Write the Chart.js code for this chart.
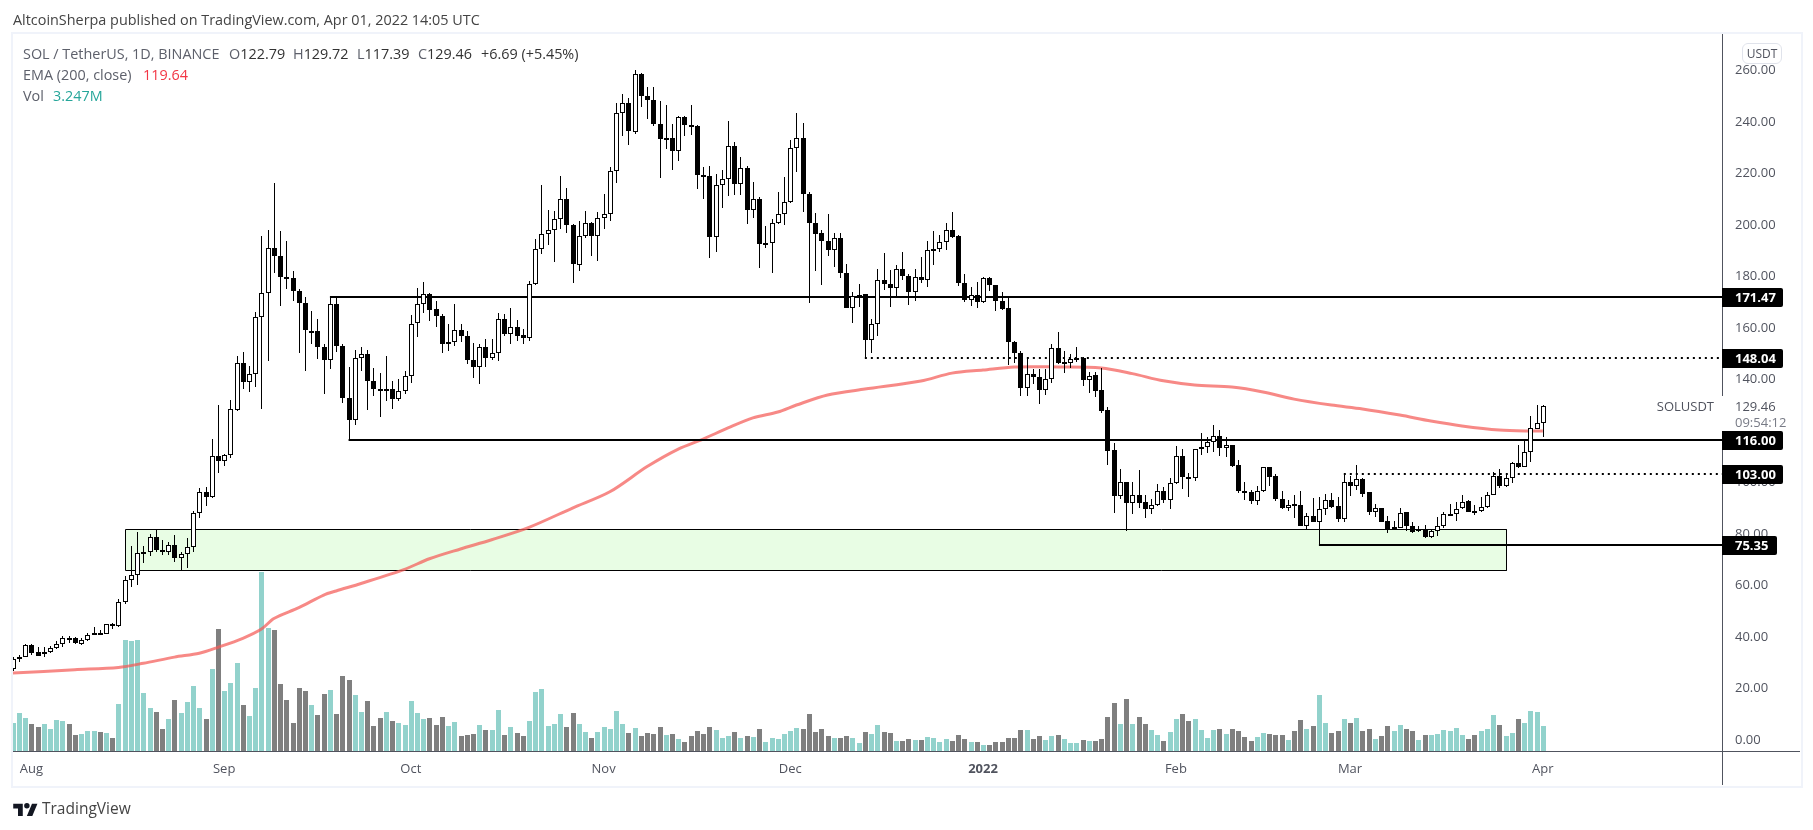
<!DOCTYPE html>
<html>
<head>
<meta charset="utf-8">
<title>SOL / TetherUS</title>
<script src="https://cdn.jsdelivr.net/npm/chart.js@4/dist/chart.umd.min.js"></script>
<style>
  html, body { margin: 0; padding: 0; background: #fff; }
  body { width: 1813px; height: 830px; position: relative; overflow: hidden; font-family: "Open Sans", sans-serif; }
  canvas { position: absolute; left: 0; top: 0; }
  #frame { position: absolute; left: 11px; top: 32px; width: 1788px; height: 752px; border: 2px solid #f0f3fa; }
  .txt { position: absolute; white-space: pre; font-size: 14.4px; line-height: 18px; color: #5d606b; }
  .txt b { font-weight: normal; color: #333; }
  #usdt { position: absolute; left: 1742px; top: 43px; width: 38px; height: 19px; border: 1px solid #e0e3eb; border-radius: 6px; background: #fff;
          font-size: 12px; line-height: 19px; text-align: center; color: #50535e; }
  #logo { position: absolute; left: 13px; top: 801px; }
</style>
</head>
<body>
<div id="frame"></div>
<canvas id="chart" width="1813" height="830"></canvas>
<div class="txt" style="left:13px;top:11px;color:#444">AltcoinSherpa published on TradingView.com, Apr 01, 2022 14:05 UTC</div>
<div class="txt" style="left:23px;top:45px">SOL / TetherUS, 1D, BINANCE</div>
<div class="txt" style="left:229px;top:45px">O<b>122.79</b></div>
<div class="txt" style="left:293px;top:45px">H<b>129.72</b></div>
<div class="txt" style="left:357px;top:45px">L<b>117.39</b></div>
<div class="txt" style="left:418px;top:45px">C<b>129.46</b></div>
<div class="txt" style="left:481px;top:45px"><b>+6.69 (+5.45%)</b></div>
<div class="txt" style="left:23px;top:66px">EMA (200, close)</div>
<div class="txt" style="left:143px;top:66px;color:#f23645">119.64</div>
<div class="txt" style="left:23px;top:87px">Vol</div>
<div class="txt" style="left:53px;top:87px;color:#26a69a">3.247M</div>
<div id="usdt">USDT</div>
<svg id="logo" width="25" height="15" viewBox="0 0 36 22"><path d="M14 22H7V11H0V4h14v18zM28 22h-8l7.5-18h8L28 22z" fill="#131722"/><circle cx="20" cy="7" r="4" fill="#131722"/></svg>
<div class="txt" style="left:42px;top:798px;font-size:15.5px;line-height:20px;color:#444">TradingView</div>

<script>
// daily candles, day 0 = Jul 29 2021, day 246 = Apr 1 2022
const opens = [
  27.2,31.1,31.7,36.5,33.8,32.9,33.6,35.3,36.9,39.2,
  39.2,37.0,38.4,40.4,41.1,40.8,44.6,43.9,53.1,61.7,
  63.7,72.1,72.6,78.4,73.4,72.6,75.3,70.3,71.8,74.6,
  87.8,95.9,94.0,109.9,107.8,110.3,127.7,146.0,138.5,141.7,
  163.7,173.2,190.7,187.6,179.4,179.0,174.0,169.3,158.3,158.4,
  152.1,147.2,168.9,152.6,132.4,123.7,148.0,149.5,139.0,135.9,
  135.4,135.9,131.9,135.1,140.8,161.4,168.9,172.8,167.1,164.3,
  153.6,154.2,158.8,156.5,147.2,144.3,152.2,148.0,149.9,163.1,
  157.1,160.0,157.0,155.6,176.7,190.3,196.1,197.7,202.0,209.8,
  199.8,184.1,195.4,200.4,195.4,202.3,203.9,220.6,243.1,247.0,
  235.7,258.3,249.9,248.2,239.0,233.0,233.4,228.4,241.7,238.5,
  238.1,219.1,218.7,195.0,215.2,217.5,230.3,215.6,221.8,205.3,
  209.7,192.3,192.6,200.4,203.9,208.4,229.5,233.4,211.7,200.4,
  196.5,193.4,189.8,194.6,181.0,167.3,171.7,172.8,155.0,161.2,
  178.3,176.7,175.0,182.6,179.8,173.5,179.4,178.1,189.9,190.3,
  193.0,197.7,195.4,177.1,170.4,172.5,169.6,179.0,176.3,170.2,
  167.4,154.2,149.9,136.2,141.9,140.6,135.4,140.0,151.7,146.1,
  146.1,147.6,147.8,139.5,141.2,135.4,127.6,112.1,94.5,99.7,
  91.8,94.6,91.9,89.4,91.0,96.2,92.9,99.3,110.1,101.9,
  101.5,112.5,113.5,115.2,117.5,113.1,114.0,106.3,96.5,95.8,
  92.5,96.2,105.5,102.0,93.4,89.8,91.1,90.7,82.8,86.5,
  84.4,89.2,92.7,90.3,85.5,99.7,98.4,101.0,95.8,88.3,
  89.7,84.5,81.4,82.0,88.0,82.8,80.6,81.7,78.6,80.9,
  82.8,87.1,87.5,89.8,92.3,88.5,88.4,90.2,94.9,102.2,
  98.4,101.5,107.0,105.7,111.6,120.4,122.79
];
const highs = [
  31.7,32.7,36.9,36.9,35.8,35.8,36.2,37.9,40.1,40.1,
  39.5,39.2,41.1,43.6,42.4,44.8,44.9,54.3,63.3,75.1,
  80.4,75.1,79.6,81.4,77.4,76.6,79.3,72.6,78.0,88.7,
  97.6,97.7,116.6,129.8,110.7,131.8,148.7,150.4,145.0,165.9,
  195.5,197.7,216.0,197.4,193.5,181.9,174.9,171.8,166.3,163.1,
  153.4,171.5,171.5,153.4,144.6,151.2,152.3,151.2,144.2,142.0,
  148.9,139.1,139.9,143.0,164.8,175.0,177.6,173.4,170.2,165.0,
  161.2,168.9,161.2,158.6,153.9,153.4,155.5,155.3,165.4,165.0,
  167.5,162.8,159.2,178.0,194.3,215.3,205.6,204.9,218.7,214.1,
  200.0,201.3,205.2,200.6,204.5,211.7,222.3,247.1,250.5,248.8,
  260.0,258.6,253.4,253.4,247.9,246.4,238.8,242.1,242.1,246.4,
  238.3,222.3,222.5,219.4,221.0,240.0,232.0,226.2,222.5,216.5,
  210.6,199.4,202.0,212.6,218.4,232.6,243.3,239.4,212.6,204.4,
  197.8,203.9,196.4,196.7,184.5,173.7,176.7,173.0,163.2,182.6,
  188.9,182.2,184.1,189.3,180.6,182.6,187.3,193.5,197.3,195.6,
  200.4,204.8,195.6,180.6,175.7,177.6,179.3,179.6,176.5,173.7,
  171.5,154.7,150.8,148.2,143.7,143.7,143.7,153.4,158.0,150.7,
  149.5,152.1,148.5,142.6,142.6,143.9,128.8,114.9,104.7,99.9,
  100.0,104.3,94.6,93.4,99.0,97.7,101.2,113.8,112.5,103.2,
  112.7,118.8,117.4,121.9,120.2,117.1,114.2,108.2,99.8,96.7,
  98.2,105.7,105.7,102.9,96.3,92.8,94.7,96.3,87.6,93.6,
  94.0,95.1,95.5,93.8,103.4,102.0,106.4,101.2,96.0,91.1,
  89.8,86.7,84.8,89.9,88.3,84.1,82.8,83.3,81.4,86.1,
  88.0,91.1,92.1,94.7,92.8,90.9,93.8,96.0,103.8,104.7,
  103.2,107.7,114.2,115.8,125.4,129.7,129.72
];
const lows = [
  26.5,29.8,31.7,32.7,32.3,32.0,33.3,34.8,35.6,37.1,
  36.9,36.4,37.9,40.2,40.4,40.6,42.6,43.4,52.4,58.9,
  59.7,68.2,70.9,72.5,71.3,71.3,68.7,65.7,66.3,72.5,
  85.7,90.3,93.6,103.2,105.9,109.0,127.5,135.8,134.6,136.9,
  128.0,146.7,180.8,168.0,174.9,170.2,150.1,142.8,153.6,147.4,
  133.8,143.8,150.4,130.3,116.0,122.1,142.8,127.9,133.4,124.9,
  131.4,128.0,131.1,134.0,138.1,156.0,165.6,162.2,159.9,150.1,
  150.5,152.5,154.0,145.5,140.3,137.7,144.3,147.3,146.7,156.6,
  153.3,154.7,153.4,154.7,176.5,188.2,192.0,185.1,197.9,196.4,
  177.0,181.6,194.6,187.5,185.5,197.9,201.1,215.8,234.1,230.6,
  235.0,245.6,240.7,237.9,217.8,229.3,220.9,224.6,234.3,234.5,
  213.7,209.6,186.7,189.0,206.1,210.8,211.1,211.1,200.1,202.3,
  182.8,190.6,180.9,199.9,199.5,208.0,220.1,204.8,169.2,181.6,
  176.2,187.5,183.5,178.9,167.2,161.4,167.7,148.04,149.9,156.6,
  174.4,167.9,171.8,178.3,168.4,170.2,177.0,175.7,184.2,189.0,
  190.0,194.7,176.1,169.9,168.3,167.5,169.5,174.1,166.4,166.5,
  145.1,145.9,133.2,133.1,137.9,130.1,133.6,138.4,145.6,142.2,
  143.9,146.5,137.2,134.5,132.9,126.5,106.4,87.9,93.3,80.9,
  87.4,89.6,85.9,87.4,90.6,91.8,89.4,99.0,97.2,94.0,
  100.3,110.3,111.2,111.6,109.9,109.6,105.7,95.4,92.8,91.4,
  90.9,96.0,98.4,92.5,89.2,88.7,85.9,82.7,81.4,84.3,
  75.35,87.0,89.6,84.4,84.4,94.3,96.7,94.1,87.0,86.3,
  84.3,80.1,81.2,81.8,80.9,80.1,80.2,77.9,78.2,78.9,
  82.0,86.7,84.8,89.3,88.0,87.0,88.2,89.9,94.6,97.5,
  98.0,99.3,105.4,105.6,107.4,120.3,117.39
];
const closes = [
  31.1,32.0,36.5,33.4,32.4,33.8,35.3,36.9,39.2,39.0,
  37.1,38.4,40.4,41.1,40.6,44.6,43.7,53.1,61.7,63.7,
  72.2,72.6,78.4,73.4,72.6,75.3,70.2,71.8,74.6,87.8,
  95.9,94.0,109.9,107.8,110.3,128.1,146.0,138.5,141.7,163.7,
  173.2,190.7,187.4,179.3,178.9,173.8,169.2,158.7,158.6,152.1,
  147.0,168.9,152.5,132.3,123.7,148.0,149.4,138.9,135.8,135.4,
  135.9,131.9,135.1,140.8,161.2,168.9,172.8,166.8,164.1,153.6,
  154.2,158.8,156.4,147.0,144.3,152.2,148.0,149.8,163.1,157.1,
  160.0,156.7,155.6,176.7,190.3,196.1,197.7,202.0,209.7,199.5,
  184.4,195.4,200.4,195.2,202.3,203.9,220.6,243.1,247.0,236.0,
  258.3,249.6,248.0,238.7,232.9,233.3,228.2,241.6,238.3,237.9,
  218.9,218.5,194.8,215.2,217.5,230.3,215.4,221.8,205.3,209.7,
  192.1,192.6,200.4,203.9,208.4,229.5,233.4,211.5,200.3,196.0,
  193.3,189.8,194.6,180.9,167.3,171.9,172.5,154.8,161.2,178.3,
  176.6,175.0,182.6,179.7,173.5,179.4,178.1,189.9,190.3,193.0,
  197.7,195.1,177.0,170.4,172.3,169.6,179.0,176.2,170.0,167.1,
  154.1,149.8,136.2,141.8,140.5,135.4,139.8,151.7,146.1,146.5,
  147.7,147.9,139.5,141.0,135.3,127.5,112.0,94.5,99.7,91.8,
  94.6,91.8,89.4,91.0,96.2,92.9,99.3,110.1,101.9,101.5,
  112.5,113.5,115.2,117.5,113.1,114.0,106.0,96.4,95.6,92.5,
  96.2,105.5,101.9,93.3,89.7,91.0,90.6,82.8,86.5,84.4,
  89.2,92.7,90.2,85.5,99.7,98.4,100.8,95.3,88.3,89.6,
  84.4,81.4,82.2,87.9,82.8,80.5,81.5,78.6,80.9,82.8,
  87.5,87.4,89.4,92.1,88.3,88.3,90.2,94.9,102.2,98.4,
  101.5,107.0,105.7,111.6,120.6,122.8,129.46
];
// volume in millions
const volumes = [
  3.64,4.94,4.29,3.51,3.12,3.51,2.86,4.03,3.90,3.51,
  2.08,2.21,2.60,2.60,2.47,2.34,1.69,6.10,14.42,14.29,
  14.42,7.53,5.58,5.06,2.86,4.16,6.62,4.94,6.36,8.44,
  5.58,4.16,10.65,15.84,7.79,8.83,11.43,5.97,4.55,8.18,
  23.25,15.97,15.71,8.70,6.62,3.64,8.18,7.79,5.97,4.68,
  7.40,7.92,4.81,9.74,9.22,7.27,5.06,6.49,3.25,4.29,
  5.06,3.90,3.64,3.38,6.49,4.94,4.16,4.29,3.38,4.42,
  3.25,3.77,1.95,2.08,2.21,3.38,2.73,2.73,5.32,2.08,
  3.12,2.34,1.95,3.90,7.66,8.05,3.25,3.51,4.81,3.12,
  4.94,3.51,2.47,1.69,2.47,3.12,2.86,5.19,3.51,2.34,
  2.99,1.95,2.34,2.21,3.12,2.08,2.21,1.56,1.17,1.95,
  2.60,2.21,3.12,2.73,1.69,1.95,2.47,1.69,1.95,1.82,
  2.86,1.17,1.69,1.56,2.21,2.60,2.99,2.86,4.81,2.47,
  2.86,1.95,1.69,1.69,1.95,1.69,1.04,2.47,2.21,3.38,
  2.47,2.34,1.30,1.30,1.56,1.43,1.43,1.82,1.69,1.17,
  1.56,1.30,2.08,1.56,1.17,1.17,0.78,0.78,1.17,1.17,
  1.69,1.69,2.73,2.73,1.56,1.95,1.43,1.95,2.08,1.56,
  1.04,1.04,1.43,1.30,1.30,1.56,4.42,6.23,3.51,6.75,
  3.51,4.42,3.51,2.73,2.08,1.30,2.47,4.16,4.81,3.90,
  4.16,2.73,1.69,2.73,2.86,2.21,2.86,2.60,1.82,1.30,
  1.82,2.34,2.21,2.08,2.08,1.43,2.60,4.03,2.86,3.25,
  7.27,3.64,2.34,2.60,4.16,3.64,4.29,2.60,2.86,1.56,
  1.95,3.25,2.60,3.38,2.86,2.60,1.43,2.08,2.08,2.21,
  2.73,2.60,2.99,2.08,1.56,2.08,2.60,2.86,4.68,3.38,
  1.95,2.34,4.16,3.64,5.19,5.06,3.247
];
// EMA 200 at these days
const emaDays = [0,10,17,21,26,30,33,37,40,42,46,50,52,56,63,67,72,77,83,90,96,102,107,111,115,119,123,126,131,137,146,151,156,161,168,175,180,185,190,196,201,206,212,217,223,228,233,239,244,246];
const emaValues = [25.6,26.9,27.8,29.4,31.8,33.3,35.6,39.1,42.7,46.8,51.0,55.9,57.5,60.4,65.9,70.0,73.8,77.4,82.2,89.7,96.0,105.8,112.6,116.5,120.8,124.7,127.0,129.7,133.6,135.9,139.0,142.1,143.3,144.5,144.5,144.1,141.9,139.1,137.5,136.7,134.8,132.0,129.7,128.2,125.8,123.5,121.6,120.0,119.6,119.64];

const priceTicks = [0,20,40,60,80,100,120,140,160,180,200,220,240,260];
const monthDays = [3,34,64,95,125,156,187,215,246];
const monthLabels = ["Aug","Sep","Oct","Nov","Dec","2022","Feb","Mar","Apr"];

// horizontal levels: price, first day
const levelPrices = [171.47,148.04,116.00,103.00,75.35];
const levelStarts = [51,137,54,214,210];
const levelDotted = [false,true,false,true,false];
const lastDay = 275;

const zoneDays = [18,240];
const zonePrices = [81.7,65.8];

const FONT = "'Open Sans', sans-serif";
const days = opens.map((_, i) => i);

function floatingBars(lo, hi) {
  return days.map(i => ({ x: i, y: [lo[i], hi[i]] }));
}

const levelSets = levelPrices.map((p, i) => ({
  type: "line", order: 3, snap: "level",
  data: [{ x: levelStarts[i], y: p }, { x: lastDay, y: p }],
  borderColor: "#000", borderWidth: 2, borderDash: levelDotted[i] ? [2, 4] : [], pointRadius: 0
}));

// snaps the library's computed pixels so candles come out crisp like the original
const snapPlugin = {
  id: "snap",
  afterDatasetsUpdate(chart) {
    chart.data.datasets.forEach((ds, n) => {
      const els = chart.getDatasetMeta(n).data;
      if (ds.snap === "bar") {
        els.forEach(el => {
          const top = Math.round(Math.min(el.y, el.base));
          let bot = Math.round(Math.max(el.y, el.base));
          if (bot - top < ds.minH) bot = top + ds.minH;
          el.x = Math.round(el.x) + 0.5;
          el.y = top;
          el.base = bot;
        });
      } else if (ds.snap === "level") {
        els.forEach(el => { el.y = Math.round(el.y); });
      } else if (ds.snap === "zone") {
        els.forEach(el => { el.x = Math.round(el.x) + 0.5; el.y = Math.round(el.y) + 0.5; });
      }
    });
  }
};

// axis lines, price tags and last price label, on top of everything
const axisPlugin = {
  id: "axisExtras",
  afterDraw(chart) {
    const ctx = chart.ctx, y = chart.scales.y, a = chart.chartArea;
    ctx.save();
    ctx.fillStyle = "#50535e";
    ctx.fillRect(a.left, a.bottom, 1787, 1);
    ctx.fillRect(a.right, a.top, 1, 751);
    ctx.fillStyle = "#fff";
    ctx.fillRect(a.right, 396, 70, 36);

    ctx.textBaseline = "middle";
    ctx.font = "13px " + FONT;
    ctx.fillStyle = "#50535e";
    ctx.textAlign = "right";
    ctx.fillText("SOLUSDT", 1714, 407);
    ctx.textAlign = "left";
    ctx.fillText("129.46", 1735, 407);
    ctx.fillStyle = "#787b86";
    ctx.fillText("09:54:12", 1735, 423);

    ctx.font = "bold 13px " + FONT;
    levelPrices.forEach(p => {
      const py = Math.round(y.getPixelForValue(p));
      const label = p.toFixed(2);
      const w = label.length > 5 ? 61 : 55;
      ctx.fillStyle = "#000";
      ctx.beginPath();
      ctx.roundRect(a.right, py - 9, w, 19, [0, 2, 2, 0]);
      ctx.fill();
      ctx.fillStyle = "#fff";
      ctx.fillText(label, 1735, py + 1);
    });
    ctx.restore();
  }
};

new Chart(document.getElementById("chart"), {
  type: "bar",
  data: {
    datasets: [
      {
        order: 1, snap: "bar", minH: 2,
        data: floatingBars(opens, closes),
        backgroundColor: days.map(i => closes[i] >= opens[i] ? "#fff" : "#000"),
        borderColor: "#000", borderWidth: 1, borderSkipped: false,
        grouped: false, maxBarThickness: 5, barPercentage: 1, categoryPercentage: 1, inflateAmount: 0
      },
      {
        order: 2, snap: "bar", minH: 1,
        data: floatingBars(lows, highs),
        backgroundColor: "#000", borderWidth: 0,
        grouped: false, maxBarThickness: 1, barPercentage: 1, categoryPercentage: 1, inflateAmount: 0
      },
      {
        order: 5, snap: "bar", minH: 1, yAxisID: "yVol",
        data: days.map(i => ({ x: i, y: volumes[i] })),
        backgroundColor: days.map(i => closes[i] >= opens[i] ? "rgba(38,166,154,0.5)" : "rgba(0,0,0,0.5)"),
        borderWidth: 0,
        grouped: false, maxBarThickness: 5, barPercentage: 1, categoryPercentage: 1, inflateAmount: 0
      },
      {
        type: "line", order: 4,
        data: emaDays.map((d, i) => ({ x: d, y: emaValues[i] })),
        borderColor: "rgba(244,92,88,0.72)", borderWidth: 3, pointRadius: 0, tension: 0.3
      },
      ...levelSets,
      {
        type: "line", order: 6, snap: "zone",
        data: [{ x: zoneDays[0], y: zonePrices[0] }, { x: zoneDays[1], y: zonePrices[0] }],
        borderWidth: 0, pointRadius: 0, fill: "+1", backgroundColor: "#e8fde4"
      },
      {
        type: "line", order: 7, snap: "zone",
        data: [{ x: zoneDays[0], y: zonePrices[1] }, { x: zoneDays[1], y: zonePrices[1] }],
        borderWidth: 0, pointRadius: 0
      },
      {
        type: "line", order: 5.5, snap: "zone",
        data: [
          { x: zoneDays[0], y: zonePrices[0] }, { x: zoneDays[1], y: zonePrices[0] },
          { x: zoneDays[1], y: zonePrices[1] }, { x: zoneDays[0], y: zonePrices[1] },
          { x: zoneDays[0], y: zonePrices[0] }
        ],
        borderColor: "#000", borderWidth: 1, pointRadius: 0
      }
    ]
  },
  options: {
    responsive: false,
    animation: false,
    devicePixelRatio: 1,
    events: [],
    layout: { padding: { left: 13, top: 34, right: 13, bottom: 45 } },
    plugins: { legend: { display: false }, tooltip: { enabled: false } },
    scales: {
      x: {
        type: "linear", offset: false, min: 0.05, max: 274.8,
        grid: { display: false, offset: false, drawTicks: false },
        border: { display: false },
        afterBuildTicks: s => { s.ticks = monthDays.map(v => ({ value: v })); },
        afterFit: s => { s.height = 34; },
        ticks: {
          autoSkip: false, maxRotation: 0, padding: 10, color: "#50535e",
          font: c => ({ family: FONT, size: 13, weight: c.tick && c.tick.value === 156 ? "bold" : "normal" }),
          callback: v => monthLabels[monthDays.indexOf(v)]
        }
      },
      y: {
        position: "right", min: -4.66, max: 273.8,
        grid: { display: false, drawTicks: false },
        border: { display: false },
        afterBuildTicks: s => { s.ticks = priceTicks.map(v => ({ value: v })); },
        afterFit: s => { s.width = 78; },
        ticks: {
          autoSkip: false, padding: 13, labelOffset: 1, color: "#50535e",
          font: { family: FONT, size: 13 },
          callback: v => v.toFixed(2)
        }
      },
      yVol: { display: false, min: 0, max: 93.12 }
    }
  },
  plugins: [snapPlugin, axisPlugin]
});
</script>
</body>
</html>
